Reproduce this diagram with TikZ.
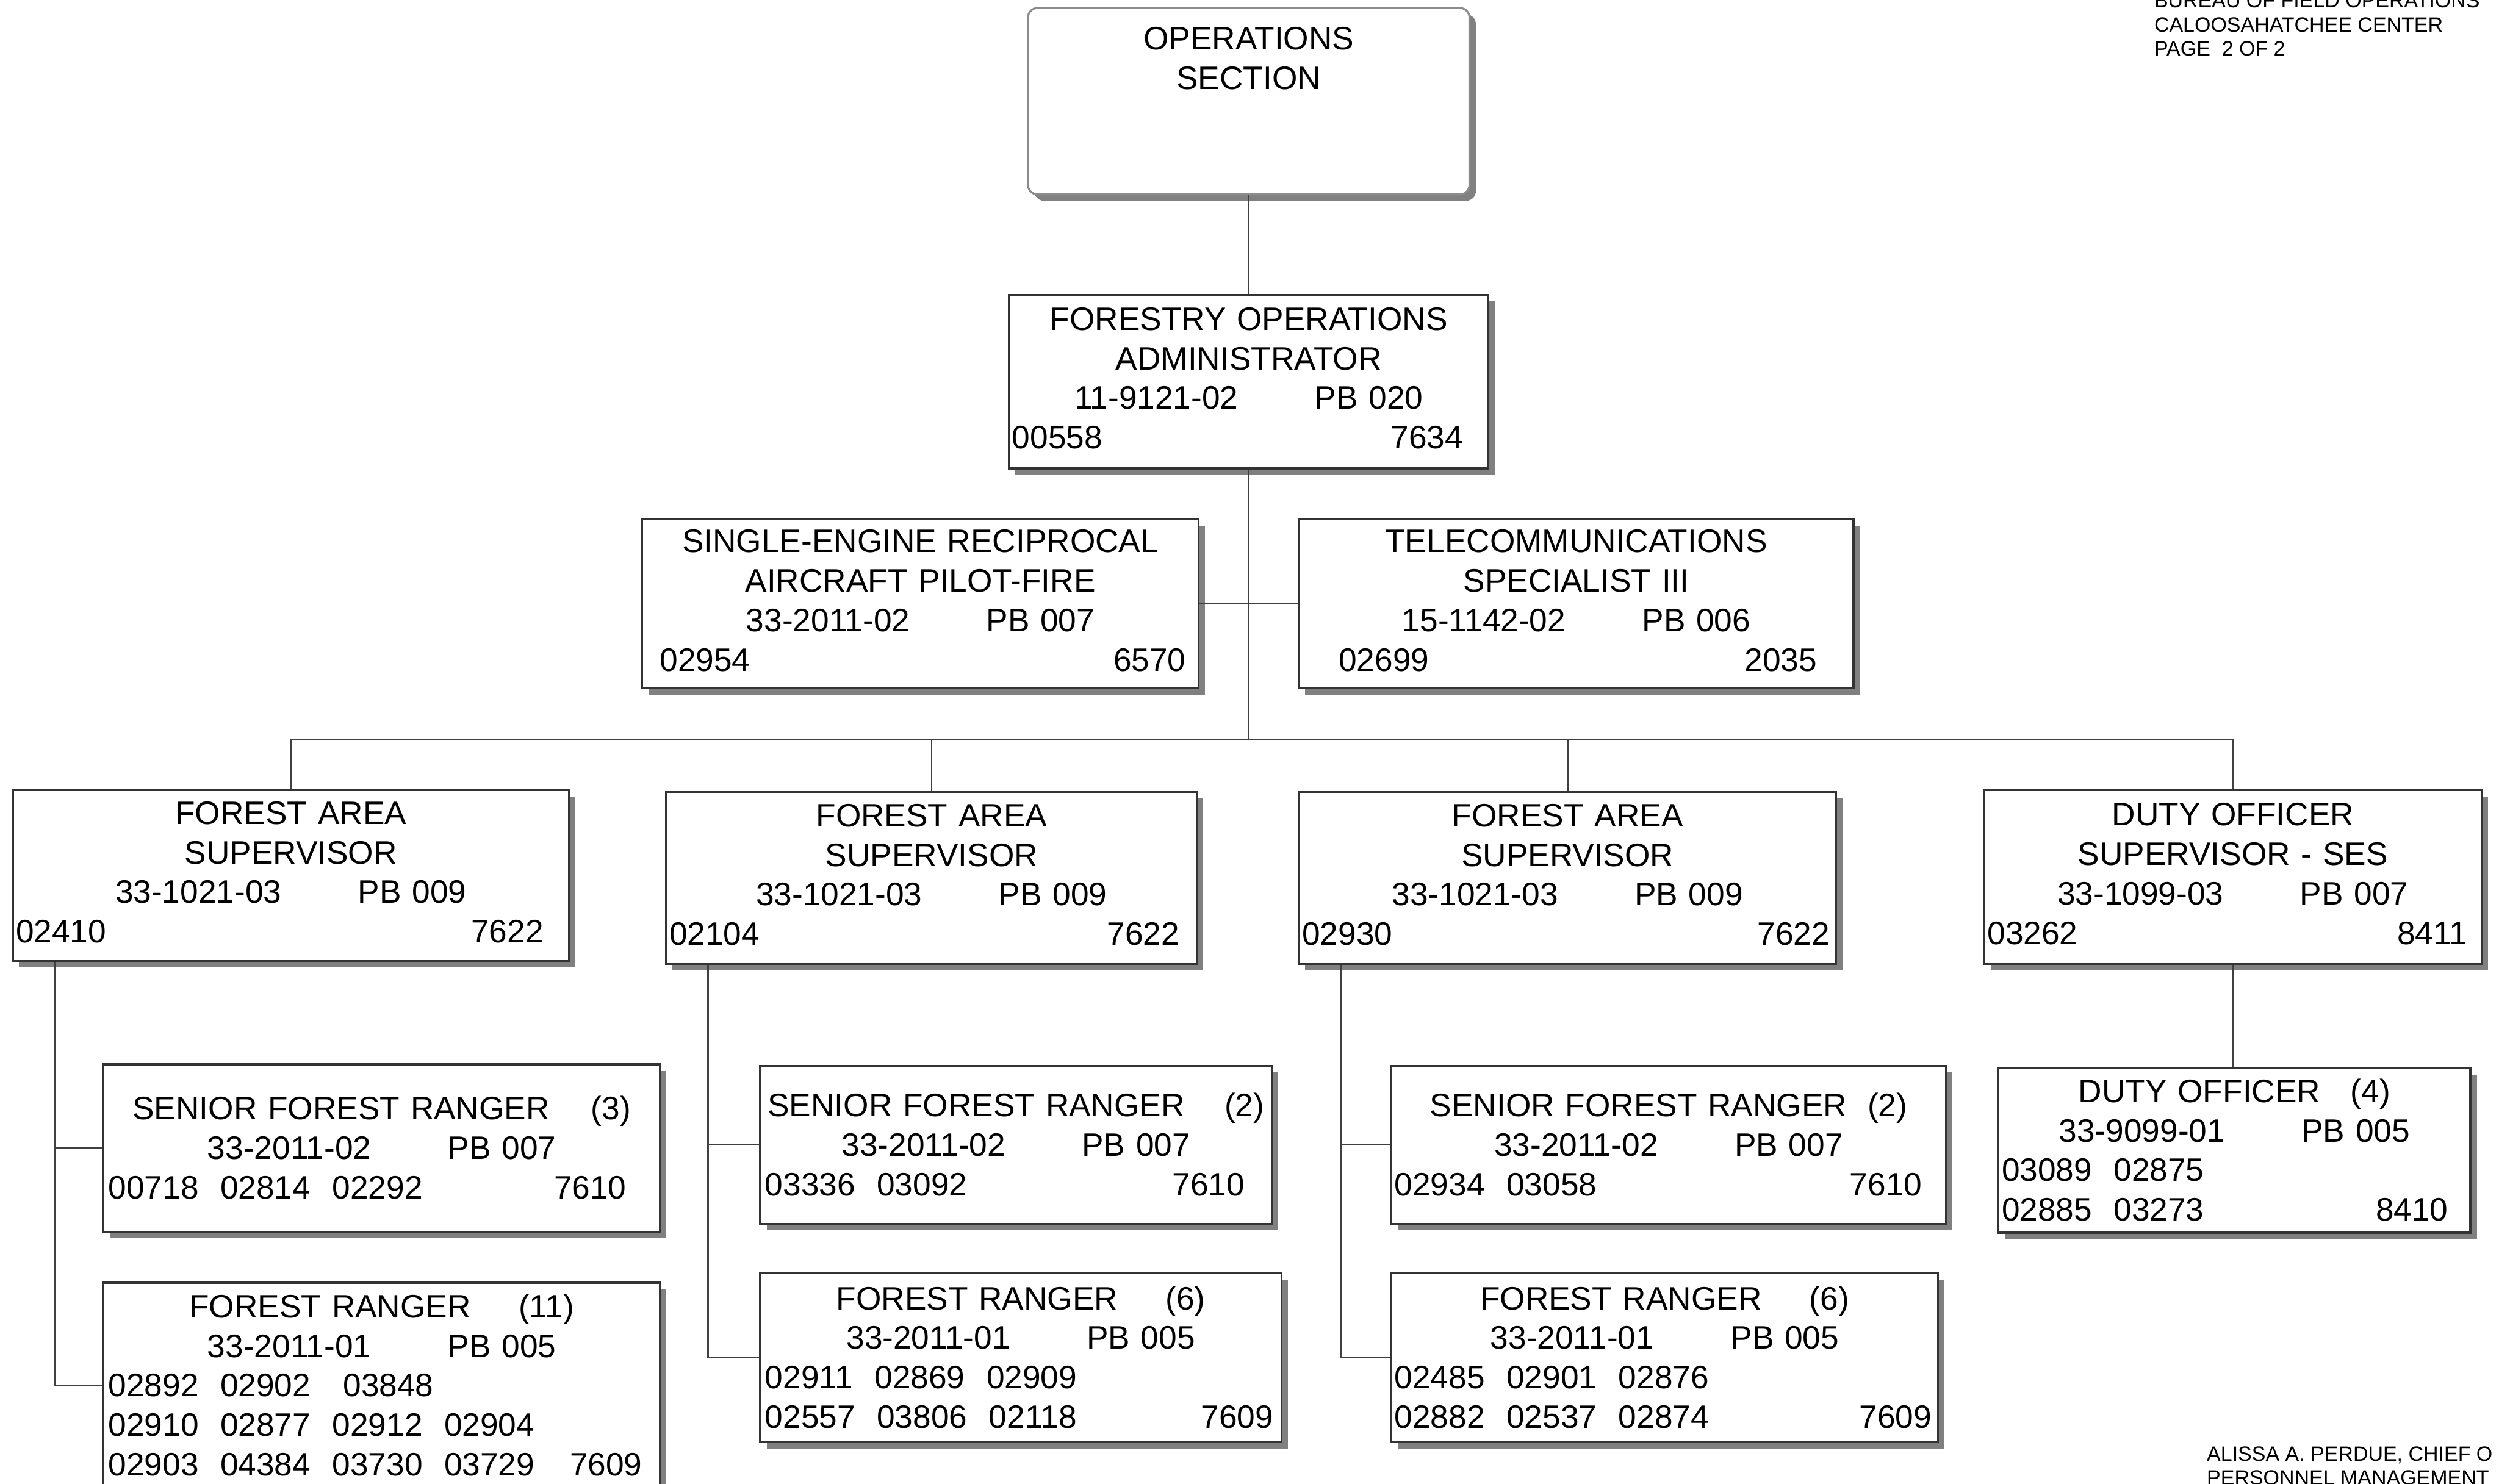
\documentclass[tikz,border=0pt]{standalone}
\usepackage{fontspec}
\setmainfont{Liberation Sans}
\usetikzlibrary{shadows}
\setlength{\parindent}{0pt}
% text sizes of the chart
\newcommand{\chartfont}{\fontsize{5.8pt}{7.05pt}\selectfont}
\newcommand{\notefont}{\fontsize{3.7pt}{4.27pt}\selectfont}
% position numbers on the left, budget code on the right
\newcommand{\idrow}[4]{\hspace*{#1}#2\hfill#3\kern#4\relax}

\begin{document}
\begin{tikzpicture}[
    post/.style={draw=black!80,line width=.35pt,fill=white,inner xsep=0pt,inner ysep=0pt,
      align=center,font=\chartfont,execute at begin node=\strut,execute at end node=\strut,
      drop shadow={shadow xshift=.04cm,shadow yshift=-.04cm,fill=black!50,opacity=1}},
    low/.style={execute at begin node=\rule{0pt}{.215cm}},
    link/.style={draw=black!75,line width=.3pt},
    note/.style={inner sep=0pt,align=left,font=\notefont,anchor=north west}]
  \useasboundingbox (0,0) rectangle (15.68,-9.31);
  \clip (0,0) rectangle (15.68,-9.31);

  % section and administrator
  \node[post,rounded corners=.06cm,draw=black!45,text width=2.77cm,minimum height=1.17cm] (ops) at (7.835,-.635)
    {OPERATIONS\\SECTION\\\mbox{}\\\mbox{}};
  \node[post,text width=3.01cm,minimum height=1.09cm] (foa) at (7.835,-2.395)
    {FORESTRY OPERATIONS\\ADMINISTRATOR\\11-9121-02\hspace{.48cm}PB 020\\\idrow{.02cm}{00558}{7634}{.16cm}};

  % staff positions
  \node[post,text width=3.49cm,minimum height=1.06cm] (pilot) at (5.775,-3.79)
    {SINGLE-ENGINE RECIPROCAL\\AIRCRAFT PILOT-FIRE\\33-2011-02\hspace{.48cm}PB 007\\\idrow{.11cm}{02954}{6570}{.08cm}};
  \node[post,text width=3.48cm,minimum height=1.06cm] (tele) at (9.89,-3.79)
    {TELECOMMUNICATIONS\\SPECIALIST III\\15-1142-02\hspace{.48cm}PB 006\\\idrow{.25cm}{02699}{2035}{.23cm}};

  % supervisors
  \node[post,text width=3.49cm,minimum height=1.07cm] (fasA) at (1.825,-5.495)
    {FOREST AREA\\SUPERVISOR\\33-1021-03\hspace{.48cm}PB 009\\\idrow{.02cm}{02410}{7622}{.16cm}};
  \node[post,text width=3.33cm,minimum height=1.08cm] (fasB) at (5.845,-5.51)
    {FOREST AREA\\SUPERVISOR\\33-1021-03\hspace{.48cm}PB 009\\\idrow{.02cm}{02104}{7622}{.11cm}};
  \node[post,text width=3.37cm,minimum height=1.08cm] (fasC) at (9.835,-5.51)
    {FOREST AREA\\SUPERVISOR\\33-1021-03\hspace{.48cm}PB 009\\\idrow{.02cm}{02930}{7622}{.04cm}};
  \node[post,text width=3.12cm,minimum height=1.09cm] (dos) at (14.01,-5.505)
    {DUTY OFFICER\\SUPERVISOR - SES\\33-1099-03\hspace{.48cm}PB 007\\\idrow{.02cm}{03262}{8411}{.09cm}};

  % rangers and duty officers
  \node[post,low,text width=3.49cm,minimum height=1.05cm] (srA) at (2.395,-7.205)
    {SENIOR FOREST RANGER\hspace{.26cm}(3)\\33-2011-02\hspace{.48cm}PB 007\\\idrow{.03cm}{00718~~02814~~02292}{7610}{.21cm}};
  \node[post,low,text width=3.49cm,minimum height=1.29cm] (frA) at (2.395,-8.695)
    {FOREST RANGER\hspace{.3cm}(11)\\33-2011-01\hspace{.48cm}PB 005\\\idrow{.03cm}{02892~~02902~~~03848}{}{0pt}\\
     \idrow{.03cm}{02910~~02877~~02912~~02904}{}{0pt}\\\idrow{.03cm}{02903~~04384~~03730~~03729}{7609}{.11cm}};
  \node[post,low,text width=3.21cm,minimum height=.99cm] (srB) at (6.375,-7.185)
    {SENIOR FOREST RANGER\hspace{.25cm}(2)\\33-2011-02\hspace{.48cm}PB 007\\\idrow{.03cm}{03336~~03092}{7610}{.17cm}};
  \node[post,low,text width=3.27cm,minimum height=1.06cm] (frB) at (6.405,-8.52)
    {FOREST RANGER\hspace{.3cm}(6)\\33-2011-01\hspace{.48cm}PB 005\\\idrow{.03cm}{02911~~02869~~02909}{}{0pt}\\
     \idrow{.03cm}{02557~~03806~~02118}{7609}{.05cm}};
  \node[post,low,text width=3.48cm,minimum height=.99cm] (srC) at (10.47,-7.185)
    {SENIOR FOREST RANGER\hspace{.13cm}(2)\\33-2011-02\hspace{.48cm}PB 007\\\idrow{.02cm}{02934~~03058}{7610}{.15cm}};
  \node[post,low,text width=3.43cm,minimum height=1.06cm] (frC) at (10.445,-8.52)
    {FOREST RANGER\hspace{.3cm}(6)\\33-2011-01\hspace{.48cm}PB 005\\\idrow{.02cm}{02485~~02901~~02876}{}{0pt}\\
     \idrow{.02cm}{02882~~02537~~02874}{7609}{.04cm}};
  \node[post,low,text width=2.96cm,minimum height=1.03cm] (dof) at (14.02,-7.22)
    {DUTY OFFICER\hspace{.19cm}(4)\\33-9099-01\hspace{.48cm}PB 005\\\idrow{.02cm}{03089~~02875}{}{0pt}\\
     \idrow{.02cm}{02885~~03273}{8410}{.14cm}};

  % reporting lines
  \coordinate (bus) at (7.835,-4.64);
  \draw[link] (ops) -- (foa);
  \draw[link] (foa.south) -- (bus);
  \draw[link] (pilot.east) -- (tele.west);
  \foreach \c in {fasA,fasB,fasC,dos}\draw[link] (bus) -| (\c.north);
  \foreach \p/\c in {fasA/srA,fasA/frA,fasB/srB,fasB/frB,fasC/srC,fasC/frC}
    \draw[link] ([xshift=2.7mm]\p.south west) |- (\c.west);
  \draw[link] (dos.south) -- (dos.south |- dof.north);

  % page notes
  \node[note] (hdr) at (13.51,.049) {BUREAU OF FIELD OPERATIONS\\CALOOSAHATCHEE CENTER\\PAGE~~2 OF 2};
  \node[note] (sig) at (13.84,-9.071) {ALISSA A. PERDUE, CHIEF O\\PERSONNEL MANAGEMENT};
\end{tikzpicture}
\end{document}
